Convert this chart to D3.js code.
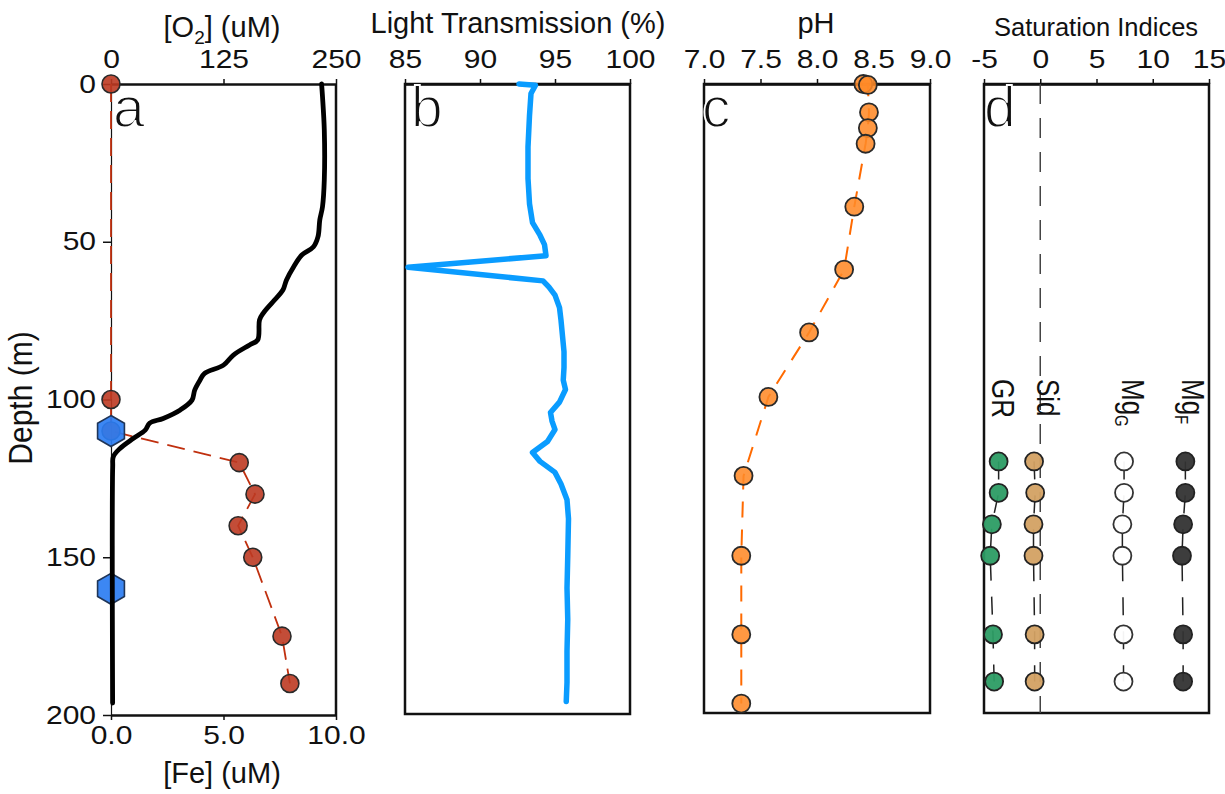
<!DOCTYPE html>
<html><head><meta charset="utf-8">
<script src="https://cdn.jsdelivr.net/npm/d3@7"></script>
<style>
body{margin:0;background:#fff;}
text{font-family:"Liberation Sans",Arial,Helvetica,sans-serif;fill:#111;}
</style></head><body>
<svg id="chart" width="1225" height="794"></svg>
<script>
// ---------- data ----------
const o2Depth = [0,4,14.6,30.4,38.9,43.1,48.4,51.6,54.2,57.9,62.1,65.3,69,72.7,74.8,81.1,82.7,85.9,89.1,91.7,93.8,97,100.2,103.3,106,107.5,109.7,112.3,115.5,118.1,121.3,196.2];
const o2Value = [234,235,237,237,235,232,230,225,212,203,195,191,180,169,165,163,154,136,125,104,99,93,90,77,58,43,38,25,10,2.6,1.9,1.8];
const feDepth = [0,100,110,120,130,140,150,175,190];
const feValue = [0,0,0,5.7,6.4,5.65,6.3,7.6,7.95];
const hexDepth = [110,160];
const hexValue = [0,0];
const lightDepth = [0,0.4,3,10,20,30,38,44,48,51,54.5,58.2,62.5,64.5,67,71,75,80,85,90,94,97,101,104.3,107,109.7,113.5,117,119.8,123.3,127,132,138,150,160,170,180,190,196];
const lightValue = [92.6,93.7,93.4,93.3,93.2,93.2,93.3,93.5,94.0,94.3,94.4,85.2,94.2,94.6,95.0,95.3,95.4,95.5,95.6,95.6,95.55,95.7,95.3,94.7,94.8,95.0,94.5,93.5,94.0,95.0,95.4,95.8,95.9,95.85,95.8,95.85,95.8,95.8,95.75];
const phDepth = [0,0.3,9,14,19,39,59,79,99.5,124.6,150,175,197];
const phValue = [8.41,8.45,8.46,8.45,8.43,8.33,8.24,7.93,7.57,7.35,7.33,7.33,7.33];
const siDepth = [120,130,140,150,175,190];
const siGR  = [-3.7,-3.7,-4.3,-4.45,-4.2,-4.1];
const siSid = [-0.55,-0.45,-0.6,-0.6,-0.5,-0.5];
const siMgG = [7.45,7.45,7.3,7.3,7.4,7.4];
const siMgF = [12.9,12.9,12.7,12.6,12.7,12.7];
const o2Ticks = [0,125,250];
const feTicks = [0,5,10];
const depthTicks = [0,50,100,150,200];
const lightTicks = [85,90,95,100];
const phTicks = [7,7.5,8,8.5,9];
const siTicks = [-5,0,5,10,15];

// ---------- setup ----------
const FONT = '"Liberation Sans",Arial,Helvetica,sans-serif';
const svg = d3.select("#chart");

const xO2 = d3.scaleLinear().domain([0,250]).range([111,336]);
const xFe = d3.scaleLinear().domain([0,10]).range([111,336]);
const yA = d3.scaleLinear().domain([0,200]).range([84,715]);
const xL = d3.scaleLinear().domain([85,100]).range([405,630]);
const yB = d3.scaleLinear().domain([0,200]).range([84,714]);
const xPH = d3.scaleLinear().domain([7,9]).range([704,930]);
const yC = d3.scaleLinear().domain([0,200]).range([84,713]);
const xSI = d3.scaleLinear().domain([-5,15]).range([984,1209]);
const yD = d3.scaleLinear().domain([0,200]).range([84,713]);

function styleAxis(g, domainW){
  g.attr("font-family",FONT);
  g.select(".domain").attr("stroke","#111").attr("stroke-width",domainW);
  g.selectAll(".tick line").attr("stroke","#111").attr("stroke-width",1.5);
  g.selectAll(".tick text").attr("font-size",25).attr("fill","#111")
    .attr("font-family",FONT).attr("transform","scale(1.2,1)");
}
function topAxis(scale, y, ticks, fmt){
  const g = svg.append("g").attr("transform",`translate(0,${y})`)
    .call(d3.axisTop(scale).tickValues(ticks).tickFormat(fmt).tickSize(5).tickSizeOuter(0).tickPadding(11));
  styleAxis(g,2.5);
  return g;
}
function frame(xs, ys){
  const [x0,x1] = xs.range(), [y0,y1] = ys.range();
  svg.append("rect").attr("x",x0).attr("y",y0).attr("width",x1-x0).attr("height",y1-y0)
    .attr("fill","none").attr("stroke","#111").attr("stroke-width",2.5);
}
function title(txt, x, y, size){
  return svg.append("text").attr("x",x).attr("y",y).attr("text-anchor","middle")
    .attr("font-size",size).text(txt);
}
function panelLetter(txt, x){
  svg.append("text").attr("x",x).attr("y",127).attr("font-size",57)
    .attr("font-family",FONT).attr("fill","#111")
    .attr("stroke","#fff").attr("stroke-width",1.8).attr("paint-order","fill").text(txt);
}

// ---------- panel a ----------
{
  const gl = svg.append("g").attr("transform",`translate(${xO2(0)},0)`)
    .call(d3.axisLeft(yA).tickValues(depthTicks).tickFormat(d=>String(d)).tickSize(8).tickSizeOuter(0).tickPadding(4.5));
  styleAxis(gl,1.2);
  svg.append("line").attr("x1",xO2(250)).attr("x2",xO2(250)).attr("y1",yA(0)).attr("y2",yA(200))
    .attr("stroke","#111").attr("stroke-width",2.5);
  topAxis(xO2, yA(0), o2Ticks, d=>String(d));
  const gb = svg.append("g").attr("transform",`translate(0,${yA(200)})`)
    .call(d3.axisBottom(xFe).tickValues(feTicks).tickFormat(d3.format(".1f")).tickSize(5).tickSizeOuter(0).tickPadding(6));
  styleAxis(gb,2.5);

  const t = svg.append("text").attr("x",222).attr("y",37).attr("text-anchor","middle").attr("font-size",29);
  t.append("tspan").text("[O");
  t.append("tspan").attr("font-size",19).attr("dy",7).text("2");
  t.append("tspan").attr("dy",-7).text("] (uM)");
  title("[Fe] (uM)", 222, 783, 29);
  svg.append("text").attr("transform","translate(32,398) scale(1.12,1) rotate(-90)")
    .attr("text-anchor","middle").attr("font-size",30).text("Depth (m)");

  const feLine = d3.line().x((d,i)=>xFe(feValue[i])).y((d,i)=>yA(feDepth[i]));
  svg.append("path").attr("d",feLine(feDepth)).attr("fill","none")
    .attr("stroke","#c0300f").attr("stroke-width",1.8).attr("stroke-dasharray","18,9");
  svg.append("g").selectAll("circle").data(feDepth).join("circle")
    .attr("cx",(d,i)=>xFe(feValue[i])).attr("cy",d=>yA(d)).attr("r",9)
    .attr("fill","#bd3a22").attr("fill-opacity",0.9).attr("stroke","#2a2a2a").attr("stroke-width",1.6);

  const hexR = 15.5;
  const hexPath = (cx,cy)=>{
    const pts = d3.range(6).map(k=>{const a=(-90+60*k)*Math.PI/180; return [cx+hexR*Math.cos(a), cy+hexR*Math.sin(a)];});
    return "M"+pts.map(p=>p.join(",")).join("L")+"Z";
  };
  svg.append("g").selectAll("path").data(hexDepth).join("path")
    .attr("d",(d,i)=>hexPath(xFe(hexValue[i]), yA(d)))
    .attr("fill","#2b7df2").attr("fill-opacity",0.92).attr("stroke","#1f3558").attr("stroke-width",1.6);

  const o2Line = d3.line().x((d,i)=>xO2(o2Value[i])).y((d,i)=>yA(o2Depth[i])).curve(d3.curveCatmullRom.alpha(0.5));
  svg.append("path").attr("d",o2Line(o2Depth)).attr("fill","none")
    .attr("stroke","#000").attr("stroke-width",4.8).attr("stroke-linejoin","round").attr("stroke-linecap","round");

  panelLetter("a", 113);
}

// ---------- panel b ----------
{
  frame(xL, yB);
  topAxis(xL, yB(0), lightTicks, d=>String(d));
  title("Light Transmission (%)", 518, 33, 29);
  const lLine = d3.line().x((d,i)=>xL(lightValue[i])).y((d,i)=>yB(lightDepth[i]));
  svg.append("path").attr("d",lLine(lightDepth)).attr("fill","none")
    .attr("stroke","#0a9cff").attr("stroke-width",5.5).attr("stroke-linejoin","round").attr("stroke-linecap","round");
  panelLetter("b", 411);
}

// ---------- panel c ----------
{
  frame(xPH, yC);
  topAxis(xPH, yC(0), phTicks, d3.format(".1f"));
  title("pH", 816, 33, 29);
  const pLine = d3.line().x((d,i)=>xPH(phValue[i])).y((d,i)=>yC(phDepth[i]));
  svg.append("path").attr("d",pLine(phDepth)).attr("fill","none")
    .attr("stroke","#ff6a00").attr("stroke-width",2).attr("stroke-dasharray","16,12");
  svg.append("g").selectAll("circle").data(phDepth).join("circle")
    .attr("cx",(d,i)=>xPH(phValue[i])).attr("cy",d=>yC(d)).attr("r",9)
    .attr("fill","#ff8a28").attr("fill-opacity",0.88).attr("stroke","#2a2a2a").attr("stroke-width",1.8);
  panelLetter("c", 702);
}

// ---------- panel d ----------
{
  frame(xSI, yD);
  topAxis(xSI, yD(0), siTicks, d=>String(d));
  title("Saturation Indices", 1096, 36, 25.5);
  svg.append("line").attr("x1",xSI(0)).attr("x2",xSI(0)).attr("y1",yD(0)).attr("y2",yD(200))
    .attr("stroke","#444").attr("stroke-width",1.5).attr("stroke-dasharray","20,14");
  const series = [
    {vals: siGR,  fill:"#2c9c64", stroke:"#222"},
    {vals: siSid, fill:"#d3a163", stroke:"#222"},
    {vals: siMgG, fill:"#ffffff", stroke:"#333"},
    {vals: siMgF, fill:"#333333", stroke:"#222"}
  ];
  series.forEach(s=>{
    const ln = d3.line().x((d,i)=>xSI(s.vals[i])).y((d,i)=>yD(siDepth[i]));
    svg.append("path").attr("d",ln(siDepth)).attr("fill","none")
      .attr("stroke","#222").attr("stroke-width",1.5).attr("stroke-dasharray","18,16");
    svg.append("g").selectAll("circle").data(siDepth).join("circle")
      .attr("cx",(d,i)=>xSI(s.vals[i])).attr("cy",d=>yD(d)).attr("r",9)
      .attr("fill",s.fill).attr("fill-opacity",0.95).attr("stroke",s.stroke).attr("stroke-width",1.8);
  });
  const labs = [
    {x: 992, main:"GR", sub:null},
    {x: 1037, main:"Sid", sub:null},
    {x: 1122, main:"Mg", sub:"G"},
    {x: 1182, main:"Mg", sub:"F"}
  ];
  labs.forEach(l=>{
    const t = svg.append("text").attr("transform",`translate(${l.x},379) scale(1.2,1) rotate(90)`)
      .attr("font-size",26);
    t.append("tspan").text(l.main);
    if(l.sub) t.append("tspan").attr("font-size",15).attr("dy",6).text(l.sub);
  });
  panelLetter("d", 984);
}
</script>
</body></html>
